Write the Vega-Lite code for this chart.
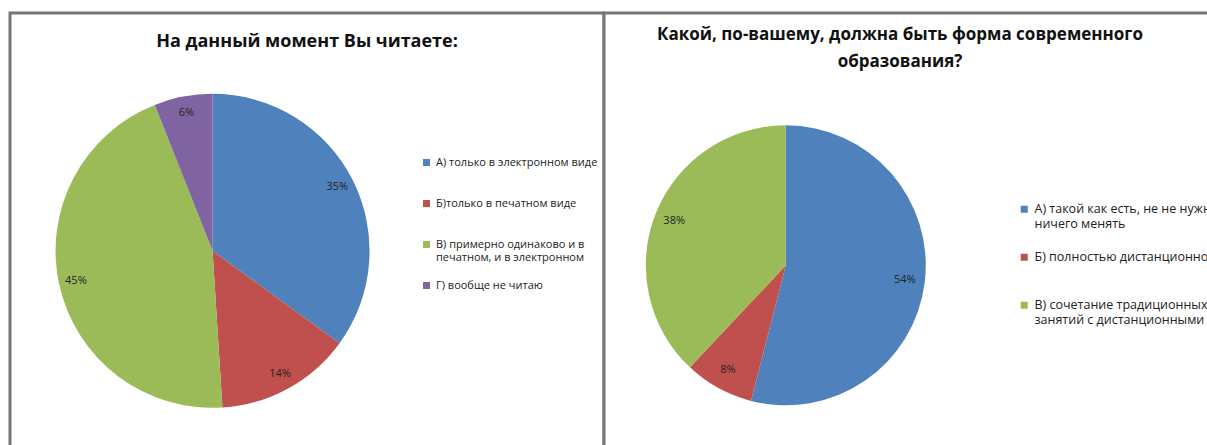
{
  "$schema": "https://vega.github.io/schema/vega-lite/v6.json",
  "padding": {"left": 8, "top": 11, "right": 0, "bottom": 0},
  "spacing": 0,
  "bounds": "flush",
  "background": "white",
  "resolve": {"scale": {"color": "independent", "theta": "independent"}, "legend": {"color": "independent"}},
  "config": {
    "view": {"stroke": "#767676", "strokeWidth": 3, "fill": "white"},
    "font": "Open Sans",
    "title": {"font": "Open Sans", "fontWeight": "bold", "color": "#111111", "anchor": "middle"},
    "legend": {
      "orient": "none",
      "title": null,
      "symbolType": "square",
      "symbolSize": 49,
      "symbolStrokeWidth": 0,
      "labelColor": "#222222",
      "labelFont": "Open Sans",
      "labelLimit": 400,
      "labelOffset": 4,
      "padding": 0
    }
  },
  "datasets": {
    "reading": [
      {"answer": "А) только в электронном виде", "share": 0.35},
      {"answer": "Б)только в печатном виде", "share": 0.14},
      {"answer": "В) примерно одинаково и в печатном, и в электронном", "share": 0.45},
      {"answer": "Г) вообще не читаю", "share": 0.06}
    ],
    "form": [
      {"answer": "А) такой как есть, не не нужно ничего менять", "share": 0.54},
      {"answer": "Б) полностью дистанционное", "share": 0.08},
      {"answer": "В) сочетание традиционных занятий с дистанционными", "share": 0.38}
    ]
  },
  "hconcat": [
    {
      "width": 594,
      "height": 445,
      "title": {"text": "На данный момент Вы читаете:", "fontSize": 18, "offset": -38},
      "data": {"name": "reading"},
      "encoding": {
        "x": {"datum": 0.341, "type": "quantitative", "scale": {"domain": [0, 1]}, "axis": null},
        "y": {"datum": 0.5345, "type": "quantitative", "scale": {"domain": [0, 1], "reverse": true}, "axis": null},
        "theta": {"field": "share", "type": "quantitative", "stack": true},
        "order": {"field": "answer", "type": "ordinal"},
        "color": {
          "field": "answer",
          "type": "nominal",
          "scale": {
            "domain": ["А) только в электронном виде", "Б)только в печатном виде", "В) примерно одинаково и в печатном, и в электронном", "Г) вообще не читаю"],
            "range": ["#4F81BD", "#C0504D", "#9BBB59", "#8064A2"]
          },
          "legend": {
            "legendX": 411,
            "legendY": 144,
            "labelFontSize": 11,
            "rowPadding": 16,
            "labelExpr": "datum.label == 'В) примерно одинаково и в печатном, и в электронном' ? ['В) примерно одинаково и в', 'печатном, и в электронном'] : [datum.label, '']"
          }
        }
      },
      "layer": [
        {"mark": {"type": "arc", "outerRadius": 157}},
        {
          "mark": {"type": "text", "radius": 140, "fontSize": 11},
          "encoding": {
            "text": {"field": "share", "type": "quantitative", "format": ".0%"},
            "detail": {"field": "answer", "type": "nominal"},
            "fill": {"value": "#222222"}
          }
        }
      ]
    },
    {
      "width": 610,
      "height": 445,
      "title": {"text": ["Какой, по-вашему, должна быть форма современного", "образования?"], "fontSize": 17, "lineHeight": 27, "offset": -58, "dx": -9},
      "data": {"name": "form"},
      "encoding": {
        "x": {"datum": 0.298, "type": "quantitative", "scale": {"domain": [0, 1]}, "axis": null},
        "y": {"datum": 0.567, "type": "quantitative", "scale": {"domain": [0, 1], "reverse": true}, "axis": null},
        "theta": {"field": "share", "type": "quantitative", "stack": true},
        "order": {"field": "answer", "type": "ordinal"},
        "color": {
          "field": "answer",
          "type": "nominal",
          "scale": {
            "domain": ["А) такой как есть, не не нужно ничего менять", "Б) полностью дистанционное", "В) сочетание традиционных занятий с дистанционными"],
            "range": ["#4F81BD", "#C0504D", "#9BBB59"]
          },
          "legend": {
            "legendX": 414,
            "legendY": 190,
            "labelFontSize": 12.5,
            "rowPadding": 20,
            "labelExpr": "datum.label == 'А) такой как есть, не не нужно ничего менять' ? ['А) такой как есть, не не нужно', 'ничего менять'] : datum.label == 'В) сочетание традиционных занятий с дистанционными' ? ['В) сочетание традиционных', 'занятий с дистанционными'] : [datum.label, '']"
          }
        }
      },
      "layer": [
        {"mark": {"type": "arc", "outerRadius": 140}},
        {
          "mark": {"type": "text", "radius": 120, "fontSize": 11},
          "encoding": {
            "text": {"field": "share", "type": "quantitative", "format": ".0%"},
            "detail": {"field": "answer", "type": "nominal"},
            "fill": {"value": "#222222"}
          }
        }
      ]
    }
  ]
}
